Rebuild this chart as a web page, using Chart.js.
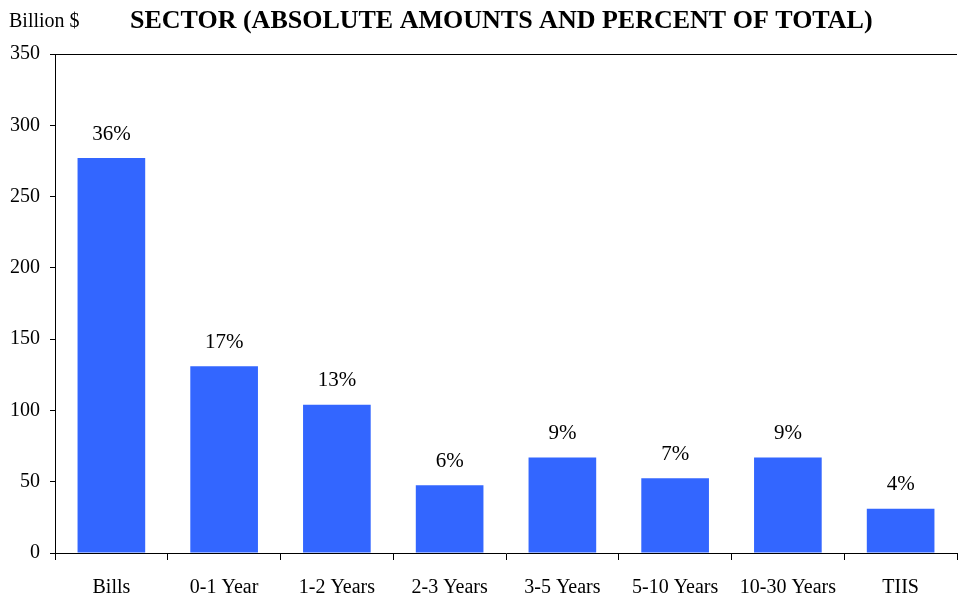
<!DOCTYPE html>
<html>
<head>
<meta charset="utf-8">
<script src="https://cdn.jsdelivr.net/npm/chart.js@4"></script>
<style>
html,body{margin:0;padding:0;background:#fff;}
#wrap{width:959px;height:597px;}
</style>
</head>
<body>
<div id="wrap"><canvas id="c" width="959" height="597"></canvas></div>
<script>
const categories = ["Bills","0-1 Year","1-2 Years","2-3 Years","3-5 Years","5-10 Years","10-30 Years","TIIS"];
const amounts = [277, 131, 104, 47.5, 67, 52.5, 67, 31];
const percentLabels = ["36%","17%","13%","6%","9%","7%","9%","4%"];
const yTicks = [0,50,100,150,200,250,300,350];
const titleText = "SECTOR (ABSOLUTE AMOUNTS AND PERCENT OF TOTAL)";
const unitText = "Billion $";

const FONT = "'Liberation Serif', 'DejaVu Serif', serif";

const extras = {
  id: 'extras',
  afterDraw(chart) {
    const ctx = chart.ctx;
    const area = chart.chartArea;
    ctx.save();
    ctx.strokeStyle = '#000';
    ctx.lineWidth = 1;
    ctx.beginPath();
    ctx.moveTo(area.left, Math.round(area.top) + 0.5);
    ctx.lineTo(area.right, Math.round(area.top) + 0.5);
    ctx.stroke();
    ctx.fillStyle = '#000';
    ctx.font = "21px " + FONT;
    ctx.textAlign = 'center';
    ctx.textBaseline = 'middle';
    const meta = chart.getDatasetMeta(0);
    meta.data.forEach((bar, i) => {
      ctx.fillText(percentLabels[i], bar.x, bar.y - 24);
    });
    ctx.font = "bold 26px " + FONT;
    ctx.textAlign = 'left';
    ctx.fillText(titleText, 130, 21);
    ctx.font = "20px " + FONT;
    ctx.fillText(unitText, 9, 22);
    ctx.restore();
  }
};

new Chart(document.getElementById('c'), {
  type: 'bar',
  data: {
    labels: categories,
    datasets: [{
      data: amounts,
      backgroundColor: '#3366FF',
      borderWidth: 0,
      barPercentage: 0.6,
      categoryPercentage: 1.0
    }]
  },
  options: {
    responsive: false,
    animation: false,
    devicePixelRatio: 1,
    layout: { padding: { top: 54, right: 2, left: 0, bottom: 0 } },
    plugins: { legend: { display: false }, tooltip: { enabled: false }, title: { display: false } },
    scales: {
      x: {
        afterFit(scale) { scale.height = 44; },
        grid: { display: true, drawOnChartArea: false, drawTicks: true, tickLength: 7, color: '#000', offset: true },
        border: { display: true, color: '#000', width: 1 },
        ticks: { color: '#000', font: { family: FONT, size: 20 }, padding: 16, maxRotation: 0, autoSkip: false }
      },
      y: {
        min: 0, max: 350,
        afterBuildTicks(scale) { scale.ticks = yTicks.map(v => ({ value: v })); },
        afterFit(scale) { scale.width = 55; },
        grid: { display: true, drawOnChartArea: false, drawTicks: true, tickLength: 5, color: '#000' },
        border: { display: true, color: '#000', width: 1 },
        ticks: { color: '#000', font: { family: FONT, size: 20 }, padding: 10 }
      }
    }
  },
  plugins: [extras]
});
</script>
</body>
</html>
